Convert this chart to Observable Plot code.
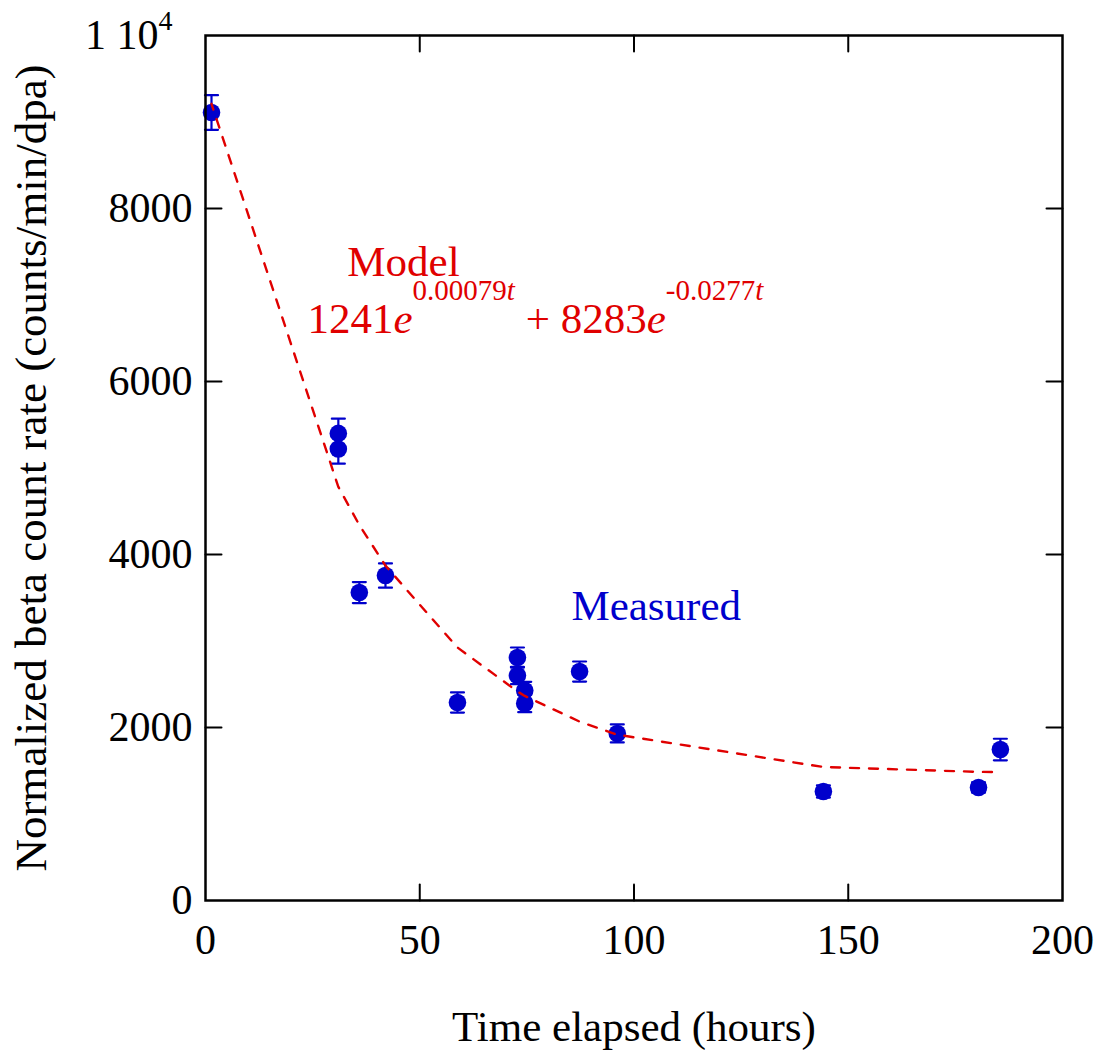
<!DOCTYPE html>
<html><head><meta charset="utf-8">
<script src="https://cdn.jsdelivr.net/npm/d3@7"></script>
<script src="https://cdn.jsdelivr.net/npm/@observablehq/plot@0.6"></script>
<style>body{margin:0;background:#fff}</style>
</head><body><div id="chart"></div>
<script>
// Measured data (hours, normalized beta count rate, error)
const hours  = [1.4, 31.0, 31.0, 35.9, 42.0, 58.8, 72.8, 72.8, 74.5, 74.5, 87.3, 96.1, 144.2, 180.4, 185.5];
const rates  = [9110, 5400, 5220, 3560, 3757, 2289, 2809, 2601, 2428, 2277, 2647, 1931, 1260, 1306, 1745];
const errors = [200, 170, 170, 121, 140, 116, 116, 100, 100, 100, 116, 104, 70, 60, 125];
// Model curve vertices
const modelHours = [1.4, 31.0, 35.9, 42.0, 58.8, 72.8, 74.5, 87.3, 96.1, 144.2, 180.4, 185.5];
const modelRates = [9210, 4782, 4341, 3871, 2925, 2417, 2365, 2068, 1917, 1543, 1487, 1485];
// Axis ticks
const xTicks = [0, 50, 100, 150, 200];
const yTicks = [0, 2000, 4000, 6000, 8000, 10000];
const xInnerTicks = [50, 100, 150];
const yInnerTicks = [2000, 4000, 6000, 8000];
// Annotations
const labels = [
  {key: "model", text: "Model", h: 33.1, r: 7225, color: "red"},
  {key: "formula", text: "FORMULA", h: 23.8, r: 6555, color: "red"},
  {key: "measured", text: "Measured", h: 85.4, r: 3237, color: "blue"}
];

const blue = "#0000cc", red = "#e00000";
const pts = hours.map((h, i) => ({h, r: rates[i], e: errors[i]}));
const model = modelHours.map((h, i) => ({h, r: modelRates[i]}));
const lineShape = {draw(ctx, l) { ctx.moveTo(0, 0); ctx.lineTo(0, -l); }};
const font = "'Liberation Serif','Times New Roman',Times,serif";

const plot = Plot.plot({
  width: 1105, height: 1055,
  marginLeft: 205, marginRight: 43, marginTop: 35, marginBottom: 155,
  style: {fontFamily: font, fontSize: "42px", color: "black", background: "white", overflow: "visible"},
  x: {domain: [0, 200]},
  y: {domain: [0, 10000]},
  marks: [
    Plot.axisX(xTicks, {anchor: "bottom", tickSize: 0, tickPadding: 24, fontSize: 42, label: null}),
    Plot.axisY(yTicks, {anchor: "left", tickSize: 0, tickPadding: 13, fontSize: 42, label: null,
      tickFormat: d => d === 10000 ? "" : String(d)}),
    Plot.text(["TOPLABEL"], {frameAnchor: "top-left", dx: -33, textAnchor: "end", lineAnchor: "middle", fontSize: 42}),
    Plot.text(["Time elapsed (hours)"], {frameAnchor: "bottom", dy: 140, textAnchor: "middle", lineAnchor: "bottom", fontSize: 43}),
    Plot.text(["Normalized beta count rate (counts/min/dpa)"], {frameAnchor: "left", dx: -160, dy: 0, rotate: -90, textAnchor: "middle", lineAnchor: "bottom", fontSize: 45}),
    // inner ticks
    Plot.vector(xInnerTicks, {x: d => d, frameAnchor: "bottom", length: 16, rotate: 0, anchor: "start", shape: lineShape, stroke: "black", strokeWidth: 2}),
    Plot.vector(xInnerTicks, {x: d => d, frameAnchor: "top", length: 16, rotate: 180, anchor: "start", shape: lineShape, stroke: "black", strokeWidth: 2}),
    Plot.vector(yInnerTicks, {y: d => d, frameAnchor: "left", length: 16, rotate: 90, anchor: "start", shape: lineShape, stroke: "black", strokeWidth: 2}),
    Plot.vector(yInnerTicks, {y: d => d, frameAnchor: "right", length: 16, rotate: -90, anchor: "start", shape: lineShape, stroke: "black", strokeWidth: 2}),
    // error bars
    Plot.ruleX(pts, {x: "h", y1: d => d.r - d.e, y2: d => d.r + d.e, stroke: blue, strokeWidth: 2.2}),
    Plot.vector(pts, {x: "h", y: d => d.r + d.e, length: 13, rotate: 90, anchor: "middle", shape: lineShape, stroke: blue, strokeWidth: 2.2}),
    Plot.vector(pts, {x: "h", y: d => d.r - d.e, length: 13, rotate: 90, anchor: "middle", shape: lineShape, stroke: blue, strokeWidth: 2.2}),
    Plot.dot(pts, {x: "h", y: "r", r: 8.8, fill: blue, stroke: null}),
    Plot.line(model, {x: "h", y: "r", stroke: red, strokeWidth: 2.4, strokeDasharray: "9,10", strokeDashoffset: 22}),
    Plot.text(labels, {x: "h", y: "r", text: "text", textAnchor: "start", lineAnchor: "bottom", fontSize: 43,
      fill: d => d.color === "red" ? red : blue}),
    Plot.frame({stroke: "black", strokeWidth: 2.5})
  ]
});

document.getElementById("chart").appendChild(plot);

function rich(el, parts) {
  const t = d3.select(el);
  t.text(null);
  for (const p of parts) {
    const s = t.append("tspan").text(p.t);
    if (p.italic) s.attr("font-style", "italic");
    if (p.size) s.attr("font-size", p.size);
    if (p.dy) s.attr("dy", p.dy);
  }
}
d3.select(plot).selectAll("text").each(function() {
  const c = this.textContent;
  if (c === "FORMULA") {
    rich(this, [
      {t: "1241"}, {t: "e", italic: true},
      {t: "0.00079", size: 29, dy: -33}, {t: "t", size: 29, italic: true},
      {t: " + 8283", dy: 33}, {t: "e", italic: true},
      {t: "-0.0277", size: 29, dy: -33}, {t: "t", size: 29, italic: true}
    ]);
  } else if (c === "TOPLABEL") {
    rich(this, [{t: "1 10"}, {t: "4", size: 28, dy: -19}]);
  }
});
</script>
</body></html>
